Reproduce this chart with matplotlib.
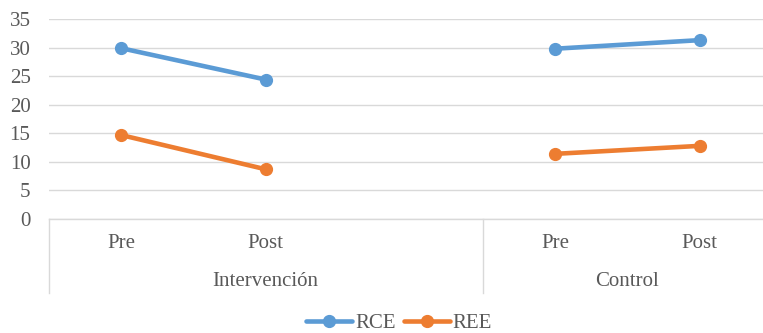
import numpy as np
import matplotlib
matplotlib.use('Agg')
import matplotlib.pyplot as plt
from matplotlib.transforms import blended_transform_factory

plt.rcParams['font.family'] = ['Liberation Serif', 'DejaVu Serif']

# categories: Intervención has an empty third slot, like the Excel source
groups = ['Intervención', 'Control']
group_sizes = [3, 2]
phases = ['Pre', 'Post', '', 'Pre', 'Post']
rce = [29.9, 24.4, np.nan, 29.8, 31.3]
ree = [14.7, 8.7, np.nan, 11.4, 12.8]
yticks = [0, 5, 10, 15, 20, 25, 30, 35]

blue = '#5B9BD5'
orange = '#ED7D31'
grid = '#D9D9D9'
txt = '#595959'
fs = 15

fig = plt.figure(figsize=(7.63, 3.33), dpi=100)
ax = fig.add_axes([48.6 / 763, 114 / 333, (763 - 48.6) / 763, 200 / 333])

x = np.arange(len(phases))
ax.plot(x, rce, color=blue, lw=3.3, marker='o', ms=8.5, label='RCE', solid_capstyle='round')
ax.plot(x, ree, color=orange, lw=3.3, marker='o', ms=8.5, label='REE', solid_capstyle='round')

ax.set_ylim(0, 35)
ax.set_xlim(-0.5, -0.5 + (763 - 48.6) / 144.7)
ax.set_yticks(yticks)
ax.tick_params(axis='y', length=0, pad=13, labelsize=fs, labelcolor=txt)
ax.set_xticks([])
ax.yaxis.grid(True, color=grid, lw=1.0)
ax.set_axisbelow(True)
for s in ['top', 'right', 'left']:
    ax.spines[s].set_visible(False)
ax.spines['bottom'].set_color(grid)
ax.spines['bottom'].set_linewidth(1.0)

# multi-level category axis
tr = blended_transform_factory(ax.transData, fig.transFigure)
for i, p in enumerate(phases):
    if p:
        ax.text(i, 1 - 244 / 333, p, transform=tr, ha='center', va='center',
                fontsize=fs, color=txt)
start = -0.5
for g, n in zip(groups, group_sizes):
    ax.text(start + n / 2, 1 - 281 / 333, g, transform=tr, ha='center', va='center',
            fontsize=fs, color=txt)
    ax.plot([start, start], [114 / 333, 1 - 293 / 333], transform=tr, color=grid,
            lw=1.0, clip_on=False)
    start += n
ax.plot([start, start], [114 / 333, 1 - 293 / 333], transform=tr, color=grid,
        lw=1.0, clip_on=False)

fig.legend(loc='center', bbox_to_anchor=(399 / 763, 10 / 333), ncol=2, frameon=False,
           fontsize=fs, handlelength=2.2, handletextpad=0.15, columnspacing=0.4,
           labelcolor=txt)

fig.savefig('out.png', dpi=100)
